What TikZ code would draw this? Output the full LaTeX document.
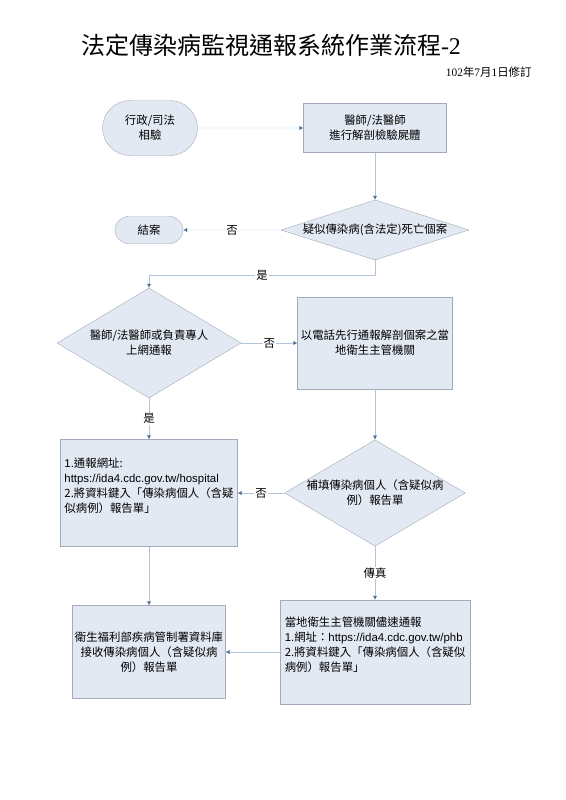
\documentclass[tikz,border=0pt]{standalone}
\usepackage{fontspec}
\setmainfont{Noto Sans CJK TC}
\newfontfamily\latin{Liberation Sans}
\newfontfamily\digits{Liberation Serif}
\usetikzlibrary{shapes,arrows.meta,calc,positioning}
\definecolor{boxfill}{HTML}{E3E9F3}
\definecolor{boxline}{HTML}{A3ABBA}
\definecolor{flowline}{HTML}{B3C5DB}
\definecolor{tipblue}{HTML}{4A6B9C}
\tikzset{
	process/.style={draw=boxline,fill=boxfill,inner sep=0pt,align=center},
	decision/.style={diamond,draw=boxline,fill=boxfill,inner sep=0pt,align=center},
	terminal/.style={rounded rectangle,draw=boxline,fill=boxfill,inner sep=0pt,align=center},
	flow/.style={draw=flowline,-{Latex[length=4pt,width=4pt,color=tipblue]}},
	answer/.style={fill=white,inner sep=1pt}
}

\begin{document}
\begin{tikzpicture}[x=1pt,y=-1pt,font=\fontsize{11.4}{15}\selectfont]
	\useasboundingbox (0,0) rectangle (565,800);
	
	\node (title) at (271,45) {\fontsize{24}{28}\selectfont 法定傳染病監視通報系統作業流程{\digits -2}};
	\node[anchor=east] (date) at (535,72) {{\digits 102}年{\digits 7}月{\digits 1}日修訂};
	
	\node[terminal,minimum width=95pt,minimum height=55pt] (start) at (150,128) {行政/司法\\相驗};
	\node[process,minimum width=143pt,minimum height=49pt] (autopsy) at (375,128) {醫師/法醫師\\進行解剖檢驗屍體};
	\node[decision,aspect=3.1,minimum width=188pt,minimum height=60pt] (suspect) at (375,230) {疑似傳染病(含法定)死亡個案};
	\node[terminal,minimum width=68pt,minimum height=27pt] (close) at (149,230) {結案};
	\node[decision,aspect=1.7,minimum width=184pt,minimum height=110pt] (online) at (149,343) {醫師/法醫師或負責專人\\上網通報};
	\node[process,minimum width=155pt,minimum height=92pt] (phone) at (375,343) {以電話先行通報解剖個案之當\\地衛生主管機關};
	\node[process,minimum width=177pt,minimum height=107pt,align=left] (report) at (149,493) {{\latin 1.}通報網址:\\{\latin https://ida4.cdc.gov.tw/hospital}\\2.將資料鍵入「傳染病個人（含疑\\似病例）報告單」\\\mbox{}};
	\node[decision,aspect=1.7,minimum width=175pt,minimum height=104pt] (refill) at (375,493) {補填傳染病個人（含疑似病\\例）報告單};
	\node[process,minimum width=153pt,minimum height=93pt] (cdc) at (149,652) {衛生福利部疾病管制署資料庫\\接收傳染病個人（含疑似病\\例）報告單};
	\node[process,minimum width=190pt,minimum height=104pt,align=left] (local) at (375,652) {當地衛生主管機關儘速通報\\{\latin 1.}網址：{\latin https://ida4.cdc.gov.tw/phb}\\2.將資料鍵入「傳染病個人（含疑似\\病例）報告單」\\\mbox{}};
	
	\draw[flow] (start) -- (autopsy);
	\draw[flow] (autopsy) -- (suspect);
	\draw[flow] (suspect) -- node[answer]{否} (close);
	\draw[flow] (suspect.south) -- ++(0,15) -| node[answer,pos=.25]{是} (online.north);
	\draw[flow] (online) -- node[answer]{否} (phone);
	\draw[flow] (online) -- node[answer]{是} (report);
	\draw[flow] (phone) -- (refill);
	\draw[flow] (refill) -- node[answer]{否} (report);
	\draw[flow] (refill) -- node[answer]{傳真} (local);
	\draw[flow] (report) -- (cdc);
	\draw[flow] (local) -- (cdc);
	
\end{tikzpicture}
\end{document}
